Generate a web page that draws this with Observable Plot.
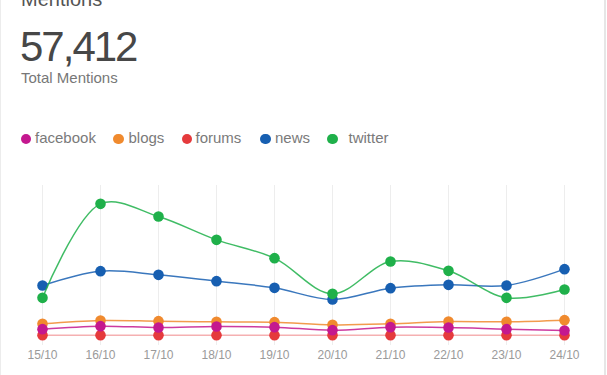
<!DOCTYPE html>
<html>
<head>
<meta charset="utf-8">
<script src="https://cdn.jsdelivr.net/npm/d3@7"></script>
<script src="https://cdn.jsdelivr.net/npm/@observablehq/plot@0.6"></script>
<style>
  html, body { margin: 0; padding: 0; background: #fff; }
  #card { position: relative; width: 607px; height: 375px; overflow: hidden; font-family: "Liberation Sans", Arial, sans-serif; }
  #card .bl { position: absolute; left: 0; top: 0; width: 1px; height: 375px; background: #ececec; }
  #card .br { position: absolute; left: 604px; top: 0; width: 2px; height: 375px; background: #e6e6e6; }
  #title { position: absolute; left: 21px; top: -12px; font-size: 20px; color: #555; white-space: nowrap; }
  #total { position: absolute; left: 20px; top: 23px; font-size: 42px; color: #474747; letter-spacing: -2px; white-space: nowrap; }
  #sub { position: absolute; left: 21px; top: 69px; font-size: 15px; color: #777; white-space: nowrap; }
  .leg { position: absolute; top: 129px; font-size: 15px; color: #7a7a7a; white-space: nowrap; line-height: 18px; }
  .dot { position: absolute; width: 10.5px; height: 10.5px; border-radius: 50%; top: 133.5px; }
  #chart { position: absolute; left: 0; top: 170px; }
</style>
</head>
<body>
<div id="card">
  <div class="bl"></div><div class="br"></div>
  <div id="title">Mentions</div>
  <div id="total">57,412</div>
  <div id="sub">Total Mentions</div>
  <div id="legend"></div>
  <div id="chart"></div>
</div>
<script>
const dates = ["15/10","16/10","17/10","18/10","19/10","20/10","21/10","22/10","23/10","24/10"];
const seriesNames = ["facebook","blogs","forums","news","twitter"];
const seriesColors = ["#c4188f","#f08a2e","#e53a3c","#175fb1","#1fb04a"];
const facebook = [490, 580, 540, 570, 550, 460, 550, 540, 490, 450];
const blogs    = [650, 750, 730, 710, 700, 620, 650, 720, 710, 760];
const forums   = [310, 310, 310, 310, 310, 310, 310, 310, 310, 310];
const news     = [1800, 2230, 2120, 1930, 1730, 1380, 1720, 1820, 1800, 2290];
const twitter  = [1430, 4250, 3870, 3170, 2620, 1550, 2520, 2240, 1430, 1680];
const legendDotX = [20.5, 113, 181.5, 260, 327];
const legendTextX = [35, 128.5, 195.5, 275, 348.5];

const valuesBySeries = {facebook, blogs, forums, news, twitter};
const rows = seriesNames.flatMap(s => dates.map((d, i) => ({series: s, date: d, value: valuesBySeries[s][i]})));

// legend
const legend = document.getElementById("legend");
seriesNames.forEach((s, i) => {
  const dot = document.createElement("div");
  dot.className = "dot";
  dot.style.left = legendDotX[i] + "px";
  dot.style.background = seriesColors[i];
  legend.appendChild(dot);
  const t = document.createElement("div");
  t.className = "leg";
  t.style.left = legendTextX[i] + "px";
  t.textContent = s;
  legend.appendChild(t);
});

const drawOrder = ["forums", "blogs", "facebook", "news", "twitter"];
const colorOf = s => seriesColors[seriesNames.indexOf(s)];
const seriesMarks = drawOrder.flatMap(s => {
  const data = rows.filter(r => r.series === s);
  return [
    Plot.line(data, {x: "date", y: "value", stroke: colorOf(s), strokeWidth: 1.5,
      strokeOpacity: s === "forums" ? 0.4 : 0.85, curve: "catmull-rom"}),
    Plot.dot(data, {x: "date", y: "value", r: 5.3, fill: colorOf(s), stroke: "none"})
  ];
});

const chart = Plot.plot({
  width: 607,
  height: 205,
  marginLeft: 40.7,
  marginRight: 40.7,
  marginTop: 15,
  marginBottom: 30,
  style: {fontFamily: "'Liberation Sans', Arial, sans-serif", fontSize: "12px", color: "#999", background: "transparent", overflow: "visible"},
  x: {type: "point", domain: dates, padding: 0, label: null},
  y: {domain: [0, 4800], axis: null},
  marks: [
    Plot.ruleX(dates, {x: d => d, stroke: "#ededed", strokeWidth: 1}),
    Plot.axisX({tickSize: 0, tickPadding: 5, fontSize: 12, fill: "#9a9a9a", label: null}),
    ...seriesMarks
  ]
});
document.getElementById("chart").appendChild(chart);
</script>
</body>
</html>
